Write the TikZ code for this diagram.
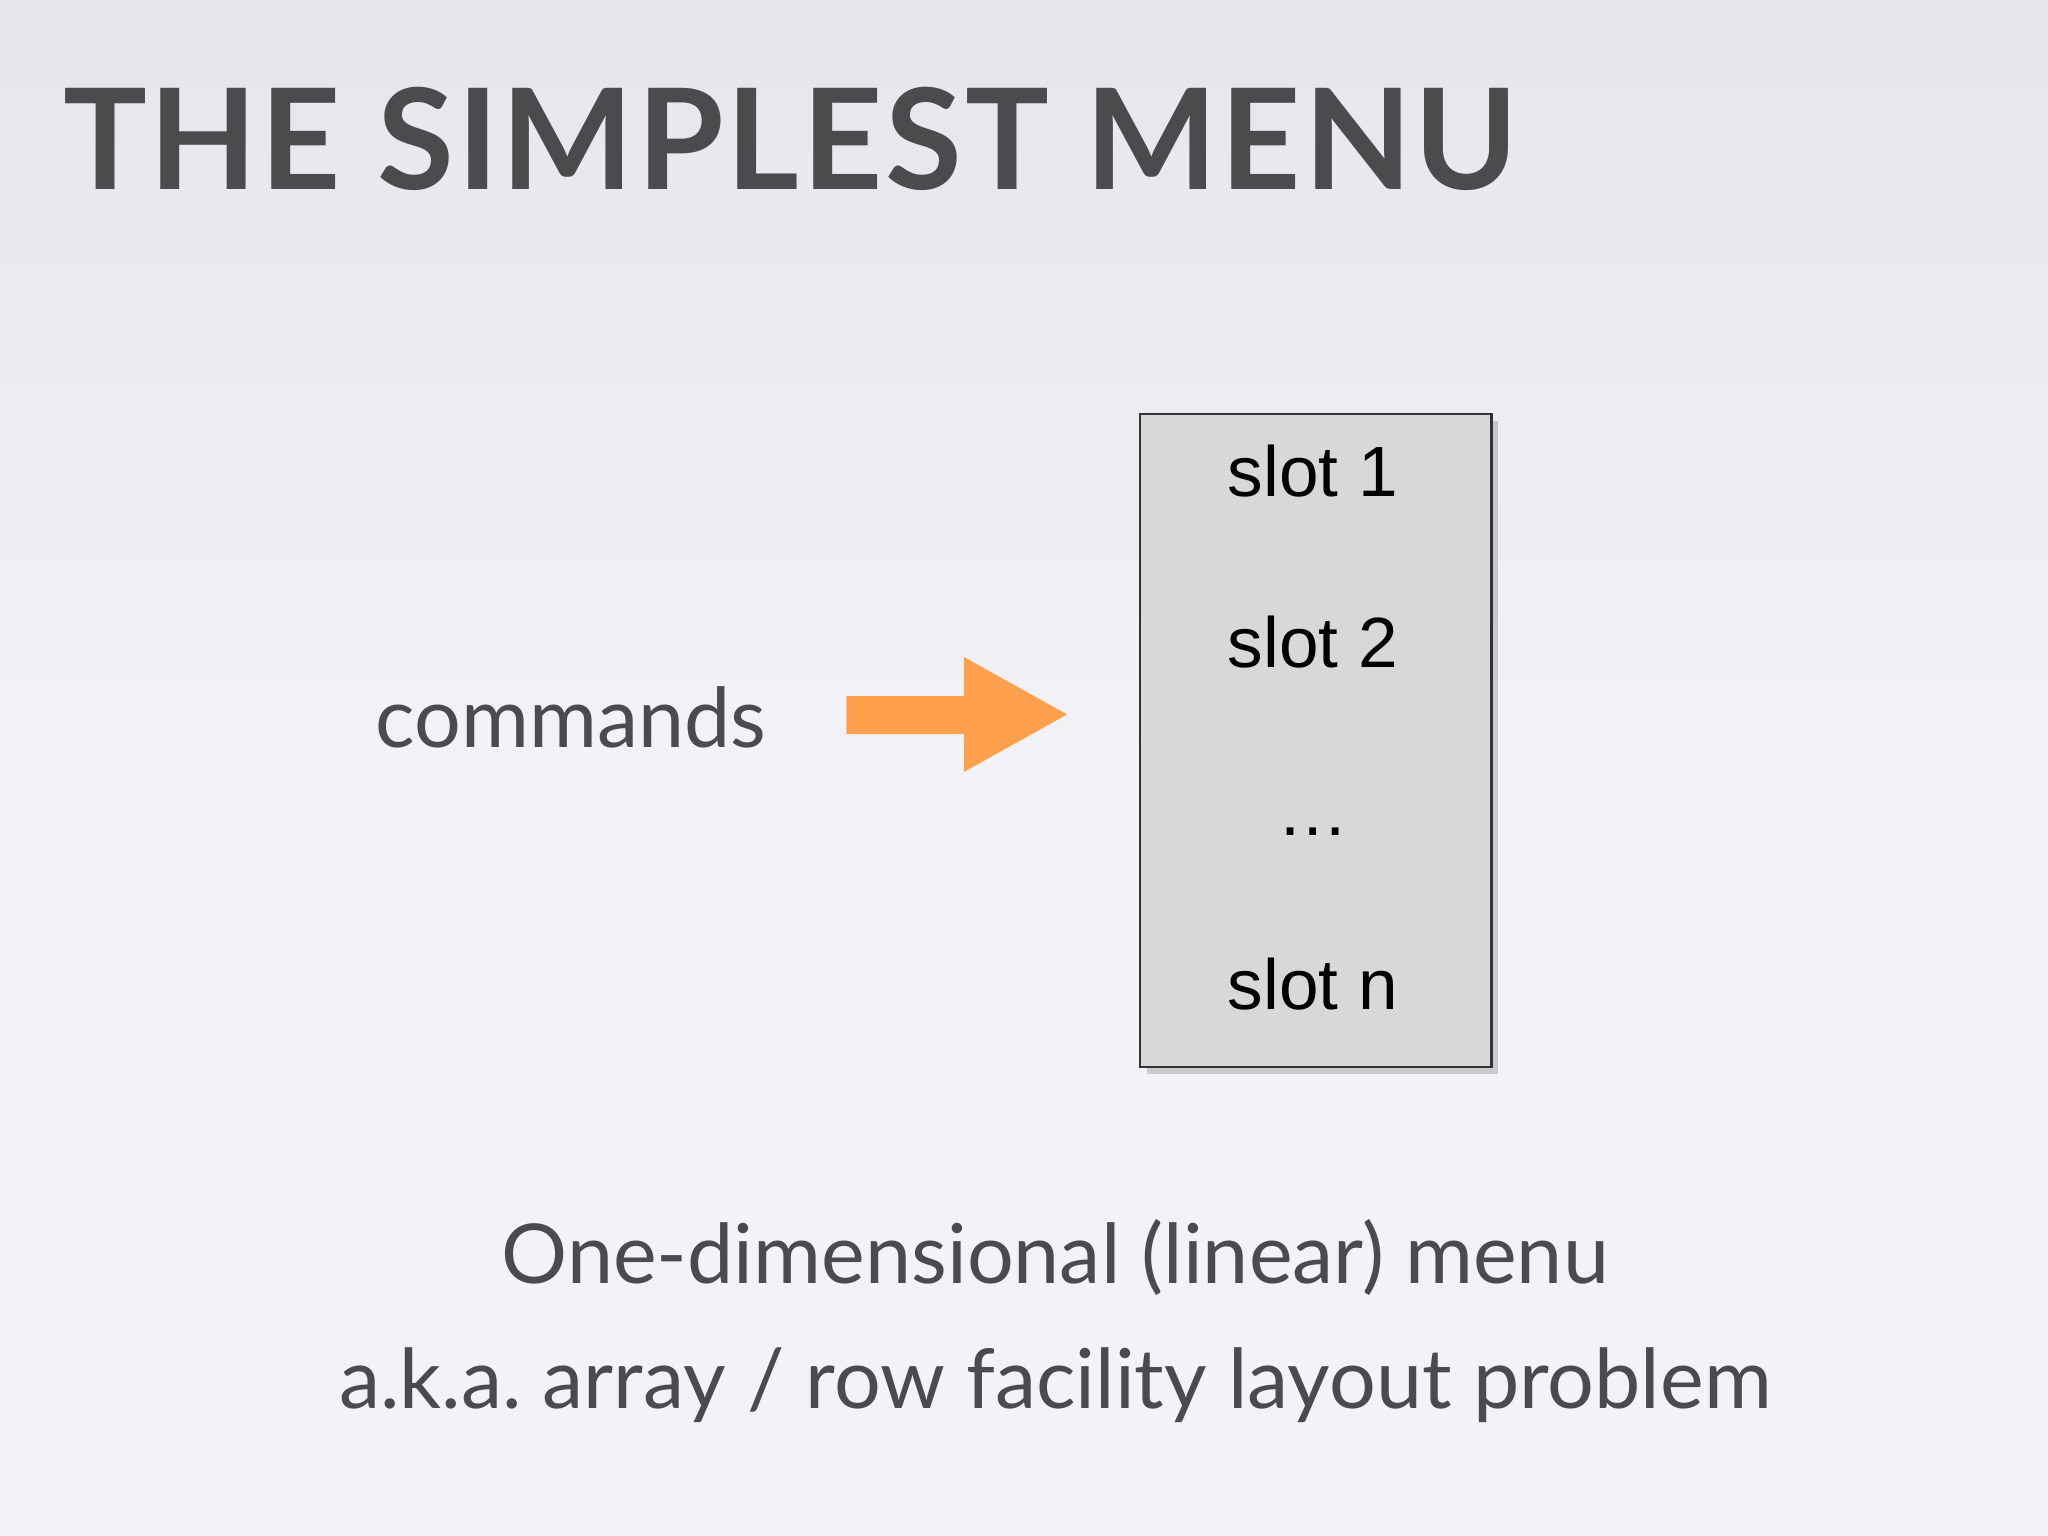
\documentclass[tikz,border=0pt]{standalone}
\usepackage{fontspec}
\setmainfont{Lato}
\newfontfamily\slotfont{Liberation Sans}
\usetikzlibrary{shadows}
\definecolor{bgA}{HTML}{E4E6EA}
\definecolor{bgB}{HTML}{F3F3F7}
\definecolor{txt}{HTML}{4A4B4D}
\definecolor{orng}{HTML}{FFA04F}
\definecolor{boxg}{HTML}{D8D8DA}
\tikzset{
  slot/.style={font=\slotfont\fontsize{31}{34}\selectfont, text=black, anchor=base},
  body/.style={font=\fontsize{36}{42}\selectfont, text=txt, anchor=base}
}
\begin{document}
\begin{tikzpicture}[x=0.02cm,y=-0.02cm]
\shade[top color=bgA,bottom color=bgB,middle color=bgB] (0,0) rectangle (1568,1176);
\useasboundingbox (0,0) rectangle (1568,1176);
\node[font=\bfseries\fontsize{61}{66}\selectfont\addfontfeature{LetterSpace=2}, text=txt, anchor=base west, inner sep=0] (title) at (48,145) {THE SIMPLEST MENU};
\node[body] (cmd) at (437,572) {commands};
\node[draw=black!80, fill=boxg, line width=1pt, drop shadow={shadow xshift=3pt, shadow yshift=-3pt, opacity=0.35}, minimum width=269*0.02cm, minimum height=500*0.02cm, anchor=north west, inner sep=0] (menu) at (872,316) {};
\node[slot] (s1) at (1005,380) {slot 1};
\node[slot] (s2) at (1005,511) {slot 2};
\node[slot] (sd) at (1005,640) {\dots};
\node[slot] (sn) at (1005,773) {slot n};
\fill[orng] (648,533) -- (738,533) -- (738,503) -- (817,547) -- (738,591) -- (738,562) -- (648,562) -- cycle;
\node[body] (l1) at (808,983) {One-dimensional (linear) menu};
\node[body] (l2) at (808,1078) {a.k.a.\ array / row facility layout problem};
\end{tikzpicture}
\end{document}
